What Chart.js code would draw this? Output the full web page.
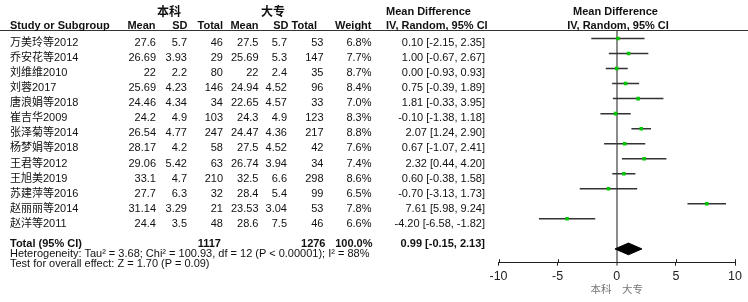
<!DOCTYPE html>
<html><head><meta charset="utf-8">
<script src="https://cdn.jsdelivr.net/npm/chart.js@4.4.1/dist/chart.umd.min.js"></script>
<style>
html,body{margin:0;padding:0;background:#fff;}
#wrap{position:relative;width:748px;height:302px;overflow:hidden;background:#fff;}
#c{position:absolute;left:0;top:0;width:748px;height:302px;}
.t{position:absolute;white-space:nowrap;font-family:"Liberation Sans",Arial,"Noto Sans CJK SC",sans-serif;font-size:11px;line-height:14px;color:#111;}
.b{font-weight:bold;}
.cj{font-family:"Noto Sans CJK SC",sans-serif;}
#hl{position:absolute;left:0;top:30px;width:748px;height:1px;background:#333;}
</style></head><body>
<div id="wrap"><canvas id="c" width="748" height="302"></canvas><div id="hl"></div></div>
<script>
// ---- data ----
const studies = ['万美玲等2012','乔安花等2014','刘维维2010','刘蓉2017','唐浪娟等2018','崔吉华2009','张泽菊等2014','杨梦娟等2018','王君等2012','王旭美2019','苏建萍等2016','赵丽丽等2014','赵洋等2011'];
const mean1 = ['27.6','26.69','22','25.69','24.46','24.2','26.54','28.17','29.06','33.1','27.7','31.14','24.4'];
const sd1 = ['5.7','3.93','2.2','4.23','4.34','4.9','4.77','4.2','5.42','4.7','6.3','3.29','3.5'];
const total1 = [46,29,80,146,34,103,247,58,63,210,32,21,48];
const mean2 = ['27.5','25.69','22','24.94','22.65','24.3','24.47','27.5','26.74','32.5','28.4','23.53','28.6'];
const sd2 = ['5.7','5.3','2.4','4.52','4.57','4.9','4.36','4.52','3.94','6.6','5.4','3.04','7.5'];
const total2 = [53,147,35,96,33,123,217,42,34,298,99,53,46];
const weights = ['6.8%','7.7%','8.7%','8.4%','7.0%','8.3%','8.8%','7.6%','7.4%','8.6%','6.5%','7.8%','6.6%'];
const md = [0.10,1.00,0.00,0.75,1.81,-0.10,2.07,0.67,2.32,0.60,-0.70,7.61,-4.20];
const ciLow = [-2.15,-0.67,-0.93,-0.39,-0.33,-1.38,1.24,-1.07,0.44,-0.38,-3.13,5.98,-6.58];
const ciHigh = [2.35,2.67,0.93,1.89,3.95,1.18,2.90,2.41,4.20,1.58,1.73,9.24,-1.82];
const totalN1 = 1117, totalN2 = 1276, totalWeight = '100.0%';
const totalMd = 0.99, totalLow = -0.15, totalHigh = 2.13;
const xTicks = [-10,-5,0,5,10];
const heteroText = 'Heterogeneity: Tau² = 3.68; Chi² = 100.93, df = 12 (P < 0.00001); I² = 88%';
const testText = 'Test for overall effect: Z = 1.70 (P = 0.09)';
const groupA = '本科', groupB = '大专';

// ---- text table ----
const wrap = document.getElementById('wrap');
function txt(s, x, y, align, cls){
  const d = document.createElement('div');
  d.className = 't' + (cls ? ' ' + cls : '');
  d.textContent = s;
  d.style.top = (y - 7) + 'px';
  if (align === 'right') { d.style.right = (748 - x) + 'px'; d.style.textAlign = 'right'; }
  else if (align === 'center') { d.style.left = x + 'px'; d.style.transform = 'translateX(-50%)'; }
  else { d.style.left = x + 'px'; }
  wrap.appendChild(d);
  return d;
}
const ciStr = (m,l,h) => m.toFixed(2) + ' [' + l.toFixed(2) + ', ' + h.toFixed(2) + ']';
// header row 1
const h1 = txt(groupA, 169, 11, 'center', 'b cj'); h1.style.fontSize = '12px';
const h2 = txt(groupB, 273, 11, 'center', 'b cj'); h2.style.fontSize = '12px';
txt('Mean Difference', 386, 11, 'left', 'b');
txt('Mean Difference', 615.5, 11, 'center', 'b');
// header row 2
txt('Study or Subgroup', 10, 25, 'left', 'b');
txt('Mean', 155.5, 25, 'right', 'b');
txt('SD', 187.5, 25, 'right', 'b');
txt('Total', 223, 25, 'right', 'b');
txt('Mean', 258.5, 25, 'right', 'b');
txt('SD', 288.5, 25, 'right', 'b');
txt('Total', 317, 25, 'right', 'b');
txt('Weight', 371.5, 25, 'right', 'b');
txt('IV, Random, 95% CI', 386, 25, 'left', 'b');
txt('IV, Random, 95% CI', 618, 25, 'center', 'b');
// rows
studies.forEach((s,i)=>{
  const y = 41.7 + 15.1*i;
  txt(s, 10, y, 'left');
  txt(mean1[i], 156, y, 'right');
  txt(sd1[i], 187, y, 'right');
  txt(String(total1[i]), 223, y, 'right');
  txt(mean2[i], 258.5, y, 'right');
  txt(sd2[i], 287, y, 'right');
  txt(String(total2[i]), 323.5, y, 'right');
  txt(weights[i], 371.5, y, 'right');
  txt(ciStr(md[i], ciLow[i], ciHigh[i]), 485, y, 'right');
});
txt('Total (95% CI)', 10, 242.7, 'left', 'b');
txt(String(totalN1), 221, 242.7, 'right', 'b');
txt(String(totalN2), 325.5, 242.7, 'right', 'b');
txt(totalWeight, 372.5, 242.7, 'right', 'b');
txt(ciStr(totalMd, totalLow, totalHigh), 485, 242.7, 'right', 'b');
txt(heteroText, 10, 253.3, 'left');
txt(testText, 10, 263.3, 'left');

// ---- chart ----
const TOTAL_ROW = 14;
const datasets = [];
studies.forEach((s,i)=>{
  datasets.push({data:[{x:ciLow[i],y:i},{x:ciHigh[i],y:i}], showLine:true, borderColor:'#333', borderWidth:1.5,
    pointRadius:0, pointHoverRadius:0, fill:false, order:3});
});
datasets.push({data: md.map((v,i)=>({x:v,y:i})), pointStyle:'rect', pointRadius:2.5, pointHoverRadius:2.5,
  backgroundColor:'#00c800', borderColor:'#00c800', borderWidth:0, showLine:false, order:1});
const dh = 0.39;
datasets.push({data:[{x:totalLow,y:TOTAL_ROW},{x:totalMd,y:TOTAL_ROW-dh},{x:totalHigh,y:TOTAL_ROW},{x:totalMd,y:TOTAL_ROW+dh},{x:totalLow,y:TOTAL_ROW}],
  showLine:true, fill:'shape', backgroundColor:'#000', borderColor:'#000', borderWidth:1, pointRadius:0, pointHoverRadius:0, tension:0, order:1});

const upTicks = {
  id:'upTicks',
  afterDatasetsDraw(chart){
    const xs = chart.scales.x, ctx = chart.ctx, yb = chart.chartArea.bottom;
    ctx.save(); ctx.strokeStyle = '#222'; ctx.lineWidth = 1;
    xs.ticks.forEach(t=>{
      if (t.value === 0) return;
      const px = Math.round(xs.getPixelForValue(t.value)) + 0.5;
      ctx.beginPath(); ctx.moveTo(px, yb - 3.5); ctx.lineTo(px, yb); ctx.stroke();
    });
    ctx.restore();
  }
};

new Chart(document.getElementById('c'), {
  type:'scatter',
  data:{datasets},
  plugins:[upTicks],
  options:{
    responsive:false, animation:false, events:[],
    layout:{padding:{left:498.5, right:13, top:30, bottom:10.7}},
    plugins:{legend:{display:false}, tooltip:{enabled:false}},
    scales:{
      x:{type:'linear', min:xTicks[0], max:xTicks[xTicks.length-1], position:'bottom',
        afterBuildTicks: s => { s.ticks = xTicks.map(v=>({value:v})); },
        ticks:{color:'#222', font:{family:"'Liberation Sans', Arial", size:12.5}, padding:3, maxRotation:0, autoSkip:false},
        grid:{color: c => (c.tick && c.tick.value === 0) ? '#8c8c8c' : 'rgba(0,0,0,0)',
              lineWidth: c => (c.tick && c.tick.value === 0) ? 2 : 1,
              tickColor:'#222', tickLength:3, tickWidth:1, drawTicks:true},
        border:{display:true, color:'#222', width:1},
        title:{display:true, text:groupA + '　' + groupB, color:'#777', font:{family:"'Noto Sans CJK SC'", size:10.5, lineHeight:0.44}, padding:{top:0,bottom:0}}
      },
      y:{type:'linear', display:false, min:-0.5655, max:14.917, reverse:true}
    }
  }
});
</script>
</body></html>
